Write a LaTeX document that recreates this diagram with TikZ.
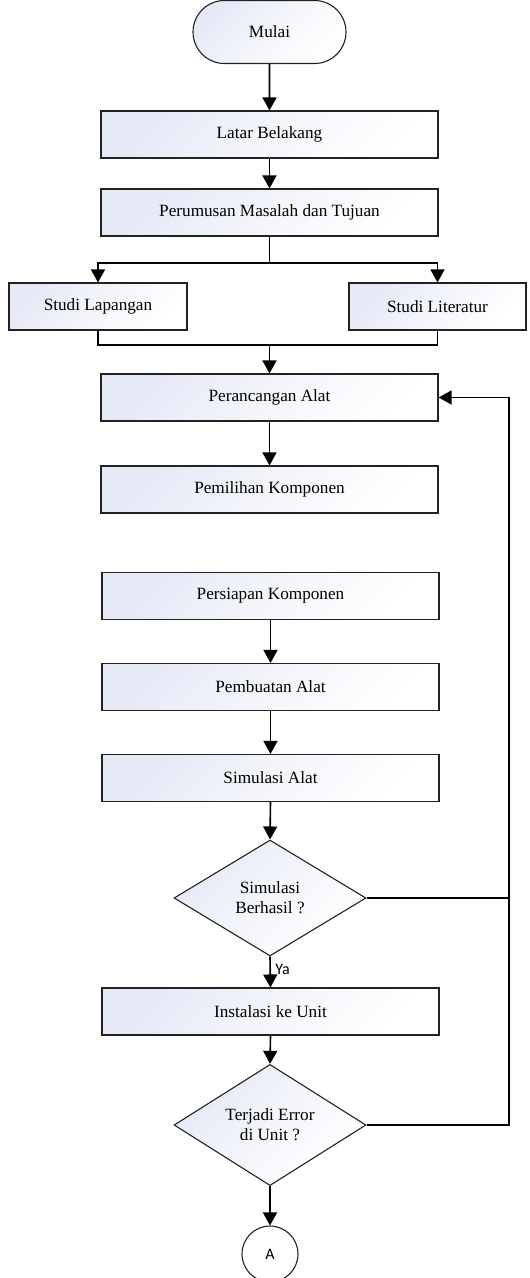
\documentclass[tikz,border=0pt]{standalone}
\usepackage{fontspec}
\setmainfont{Liberation Serif}
\newfontfamily\calib{Carlito}
\usetikzlibrary{shapes.geometric,shapes.misc,arrows.meta}
\definecolor{fillc}{HTML}{E6E9F6}
\definecolor{edgec}{HTML}{222222}
\tikzset{
  base/.style={draw=edgec, line width=1.1pt, top color=fillc, bottom color=white, middle color=fillc!45!white, shading angle=45, font=\fontsize{17.2}{20}\selectfont, align=center, inner sep=0pt},
  procbox/.style={base, rectangle, minimum width=337pt, minimum height=47pt},
  sidebox/.style={base, rectangle, minimum width=177pt, minimum height=47pt},
  termbox/.style={base, rounded rectangle, minimum width=153pt, minimum height=63pt},
  decbox/.style={base, diamond, minimum width=192pt, minimum height=116pt},
  conbox/.style={draw=edgec, line width=1.1pt, fill=white, circle, minimum size=56pt, inner sep=0pt, font=\calib\fontsize{16}{19}\selectfont},
  conn/.style={line width=1.6pt, draw=black},
  arr/.style={conn, -{Triangle[width=14pt,length=13pt]}},
}
\begin{document}
\begin{tikzpicture}[x=1pt,y=-1pt]
\useasboundingbox (0,0) rectangle (530,1278);
\node[termbox] (start) at (269.5,32) {Mulai};
\node[procbox] (latar) at (269.5,134.5) {Latar Belakang};
\node[procbox] (rumus) at (269.5,212.5) {Perumusan Masalah dan Tujuan};
\node[sidebox, minimum width=178pt] (lap) at (98,306.5) {Studi Lapangan};
\node[sidebox] (lit) at (437.5,306.5) {Studi Literatur};
\node[procbox] (rancang) at (269.5,397.5) {Perancangan Alat};
\node[procbox] (pilih) at (269.5,489.5) {Pemilihan Komponen};
\node[procbox] (siap) at (270.5,596) {Persiapan Komponen};
\node[procbox] (buat) at (270.5,687) {Pembuatan Alat};
\node[procbox] (sim) at (270.5,778) {Simulasi Alat};
\node[decbox] (d1) at (270,898) {Simulasi\\Berhasil ?};
\node[procbox] (inst) at (270.5,1011.5) {Instalasi ke Unit};
\node[decbox] (d2) at (270,1125) {Terjadi Error\\di Unit ?};
\node[conbox] (A) at (270,1254) {A};
\coordinate (split) at (269.5,263);
\coordinate (merge) at (269.5,345);
\coordinate (fb) at (509,397.5);

\draw[arr] (start) -- (latar);
\draw[arr] (latar) -- (rumus);
\draw[conn] (rumus.south) -- (split);
\draw[arr] (split) -| (lap.north);
\draw[arr] (split) -| (lit.north);
\draw[conn] (lap.south) |- (merge) -| (lit.south);
\draw[arr] (merge) -- (rancang.north);
\draw[arr] (rancang) -- (pilih);
\draw[arr] (siap) -- (buat);
\draw[arr] (buat) -- (sim);
\draw[arr] (sim.south) -- (d1.north);
\draw[arr] (d1.south) -- node[pos=0.42, right, xshift=1pt, font=\calib\fontsize{16}{19}\selectfont] {Ya} (inst.north);
\draw[arr] (inst.south) -- (d2.north);
\draw[arr] (d2.south) -- (A.north);
\draw[conn] (d1.east) -- (d1.east -| fb);
\draw[arr] (d2.east) -| (fb) -- (rancang.east);
\end{tikzpicture}
\end{document}
